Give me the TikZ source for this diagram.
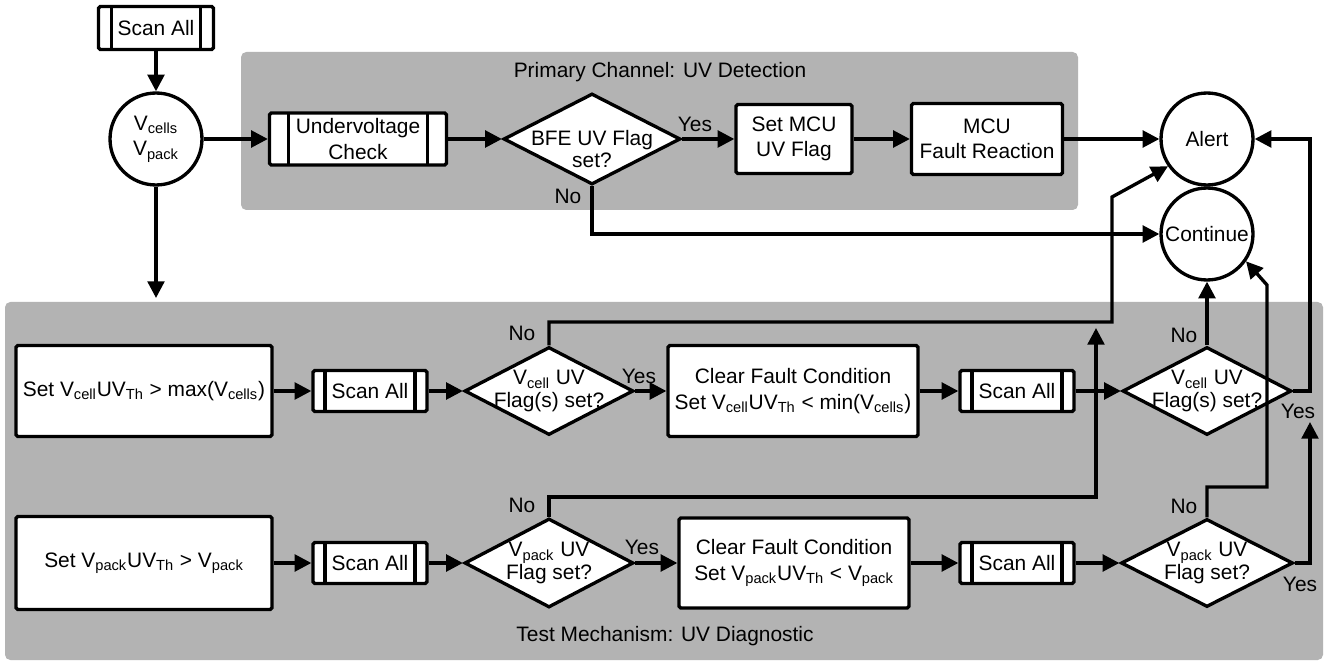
\documentclass[tikz,border=0pt]{standalone}
\usepackage{fontspec}
\setmainfont{Liberation Sans}
\usetikzlibrary{arrows.meta,shapes.geometric}
\definecolor{panelgray}{RGB}{179,179,179}

\begin{document}
\begin{tikzpicture}[x=0.02cm, y=-0.02cm,
  font=\fontsize{11.9}{14.5}\selectfont,
  line width=1.9pt,
  flow/.style={-{Triangle[length=9.5pt,width=9.5pt]}},
  panel/.style={fill=panelgray, rounded corners=3pt},
  box/.style={draw, fill=white, rounded corners=1pt, align=center, inner sep=1pt},
  scanbox/.style={box, minimum width=2.28cm, minimum height=0.82cm,
    path picture={\draw ([xshift=#1]path picture bounding box.north west) -- ([xshift=#1]path picture bounding box.south west)
      ([xshift=-#1]path picture bounding box.north east) -- ([xshift=-#1]path picture bounding box.south east);}},
  scanbox/.default=0.24cm,
  stopnode/.style={draw, fill=white, circle, minimum size=1.84cm, inner sep=0pt, align=center},
  decision/.style={draw, fill=white, diamond, inner sep=0pt},
  dtext/.style={align=center, font=\fontsize{11.9}{12.8}\selectfont},
  answer/.style={inner sep=0pt}]
 \useasboundingbox (0,0) rectangle (1329,662);

 % panels
 \fill[panel] (241,52) rectangle (1078,210);
 \fill[panel] (5,302) rectangle (1323,660);
 \node (ptitle) at (660,72) {Primary Channel: UV Detection};
 \node (ttitle) at (665,636) {Test Mechanism: UV Diagnostic};

 % primary channel
 \node[scanbox=0.26cm, minimum width=2.3cm, minimum height=0.86cm] (scan0) at (156,28) {Scan All};
 \node[stopnode] (meas) at (156,139) {V\textsubscript{cells}\\V\textsubscript{pack}};
 \node[scanbox=0.38cm, minimum width=3.54cm, minimum height=1.04cm] (uvchk) at (358,139) {Undervoltage\\Check};
 \node[decision, minimum width=3.54cm, minimum height=1.82cm,
   label={[dtext, yshift=-0.2cm]center:{BFE UV Flag\\set?}}] (bfe) at (592,139) {};
 \node[box, minimum width=2.32cm, minimum height=1.38cm] (setflag) at (794,139) {Set MCU\\UV Flag};
 \node[box, minimum width=3.02cm, minimum height=1.42cm] (react) at (987,139) {MCU\\Fault Reaction};
 \node[stopnode] (alert) at (1207,139) {Alert};
 \node[stopnode] (cont) at (1207,234) {Continue};

 % cell test
 \node[box, minimum width=5.12cm, minimum height=1.82cm] (cellset) at (144,391) {Set V\textsubscript{cell}UV\textsubscript{Th} > max(V\textsubscript{cells})};
 \node[scanbox] (cellscan) at (370,391) {Scan All};
 \node[decision, minimum width=3.38cm, minimum height=1.76cm,
   label={[dtext]center:{V\textsubscript{cell} UV\\Flag(s) set?}}] (cellchk) at (549,391) {};
 \node[box, minimum width=5cm, minimum height=1.82cm] (cellclr) at (793,391) {Clear Fault Condition\\Set V\textsubscript{cell}UV\textsubscript{Th} < min(V\textsubscript{cells})};
 \node[scanbox] (cellscan2) at (1017,391) {Scan All};
 \node[decision, minimum width=3.38cm, minimum height=1.76cm,
   label={[dtext]center:{V\textsubscript{cell} UV\\Flag(s) set?}}] (cellchk2) at (1207,391) {};

 % pack test
 \node[box, minimum width=5.12cm, minimum height=1.86cm] (packset) at (144,563) {Set V\textsubscript{pack}UV\textsubscript{Th} > V\textsubscript{pack}};
 \node[scanbox] (packscan) at (370,563) {Scan All};
 \node[decision, minimum width=3.38cm, minimum height=1.78cm,
   label={[dtext]center:{V\textsubscript{pack} UV\\Flag set?}}] (packchk) at (549,563) {};
 \node[box, minimum width=4.6cm, minimum height=1.8cm] (packclr) at (794,563) {Clear Fault Condition\\Set V\textsubscript{pack}UV\textsubscript{Th} < V\textsubscript{pack}};
 \node[scanbox] (packscan2) at (1017,563) {Scan All};
 \node[decision, minimum width=3.44cm, minimum height=1.76cm,
   label={[dtext]center:{V\textsubscript{pack} UV\\Flag set?}}] (packchk2) at (1207,563) {};

 % answers
 \node[answer] (bfeyes) at (695,124) {Yes};
 \node[answer] (bfeno) at (568,196) {No};
 \node[answer] (c1no) at (522,333) {No};
 \node[answer] (c1yes) at (639,376) {Yes};
 \node[answer] (p1no) at (522,505) {No};
 \node[answer] (p1yes) at (642,547) {Yes};
 \node[answer] (c2no) at (1184,335) {No};
 \node[answer] (c2yes) at (1298,411) {Yes};
 \node[answer] (p2no) at (1184,506) {No};
 \node[answer] (p2yes) at (1300,584) {Yes};

 % corners
 \coordinate (testin) at (156,298);
 \coordinate (j1) at (1112,322);
 \coordinate (j2) at (1112,197);
 \coordinate (j3) at (1096,497);
 \coordinate (j4) at (1096,328);
 \coordinate (r1) at (1310,391);
 \coordinate (r2) at (1310,422);
 \coordinate (k1) at (1267,487);
 \coordinate (k2) at (1267,285);

 % connectors
 \draw[flow] (scan0) -- (meas);
 \draw[flow] (meas) -- (uvchk);
 \draw[flow] (meas.south) -- (testin);
 \draw[flow] (uvchk) -- (bfe);
 \draw[flow] (bfe) -- (setflag);
 \draw[flow] (setflag) -- (react);
 \draw[flow] (react) -- (alert);
 \draw[flow] (bfe.south) |- (cont.west);

 \draw[flow] (cellset) -- (cellscan);
 \draw[flow] (cellscan) -- (cellchk);
 \draw[flow] (cellchk) -- (cellclr);
 \draw[flow] (cellclr) -- (cellscan2);
 \draw[flow] (cellscan2) -- (cellchk2);
 \draw[flow] (cellchk.north) |- (j1) -- (j2) -- (alert.215);
 \draw[flow] (cellchk2.north) -- (cont.south);
 \draw[flow] (cellchk2.east) -- (r1) |- (alert.east);

 \draw[flow] (packset) -- (packscan);
 \draw[flow] (packscan) -- (packchk);
 \draw[flow] (packchk) -- (packclr);
 \draw[flow] (packclr) -- (packscan2);
 \draw[flow] (packscan2) -- (packchk2);
 \draw[flow] (packchk.north) |- (j3) -- (j4);
 \draw[flow] (packchk2.east) -| (r2);
 \draw[flow] (packchk2.north) |- (k1) -- (k2) -- (cont.-35);
\end{tikzpicture}
\end{document}
